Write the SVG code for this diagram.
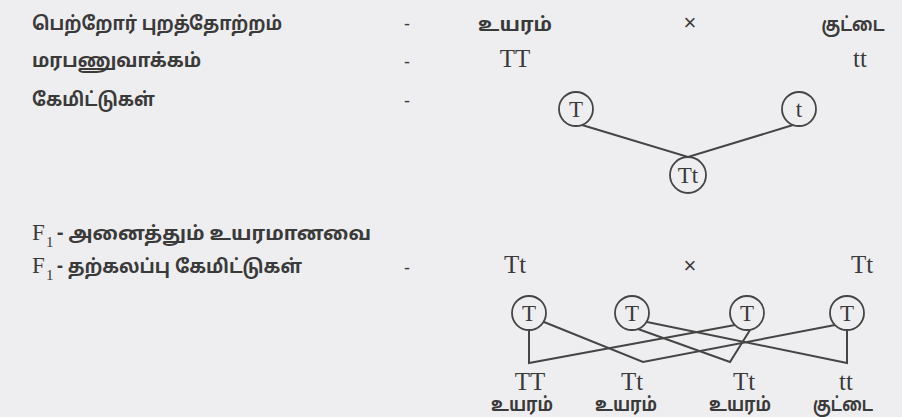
<svg xmlns="http://www.w3.org/2000/svg" width="902" height="417" viewBox="0 0 902 417">
<style>
.ta{font-family:"Noto Sans Tamil","Lohit Tamil","Noto Sans",sans-serif;font-size:19px;font-weight:700;fill:#3a3a3a}
.sr{font-family:"Liberation Serif",serif;fill:#3a3a3a}
.big{font-size:25px}
.cl{font-size:23px}
.dash{font-family:"Liberation Sans",sans-serif;font-size:18px;fill:#3a3a3a}
.x{font-family:"Liberation Sans",sans-serif;font-size:22px;fill:#3a3a3a}
.node circle{fill:none;stroke:#454545;stroke-width:1.8}
.conn{fill:none;stroke:#454545;stroke-width:2;stroke-linejoin:miter}
</style>
<rect width="902" height="417" fill="#eeeef0"/>
<g id="labels">
<text class="ta" x="32" y="30" textLength="250" lengthAdjust="spacingAndGlyphs">பெற்றோர் புறத்தோற்றம்</text>
<text class="ta" x="32" y="67" textLength="169" lengthAdjust="spacingAndGlyphs">மரபணுவாக்கம்</text>
<text class="ta" x="32" y="106" textLength="123" lengthAdjust="spacingAndGlyphs">கேமிட்டுகள்</text>
<text class="dash" x="404" y="30">-</text>
<text class="dash" x="404" y="68">-</text>
<text class="dash" x="404" y="107">-</text>
<text class="ta" x="515" y="31" text-anchor="middle" textLength="74" lengthAdjust="spacingAndGlyphs">உயரம்</text>
<text class="x" x="690" y="30" text-anchor="middle">×</text>
<text class="ta" x="853" y="31" text-anchor="middle" textLength="63" lengthAdjust="spacingAndGlyphs">குட்டை</text>
<text class="sr big" x="515" y="67" text-anchor="middle">TT</text>
<text class="sr big" x="860" y="67" text-anchor="middle">tt</text>
<text class="sr" x="32" y="240" font-size="23">F</text>
<text class="sr" x="46" y="247" font-size="15">1</text>
<text class="ta" x="57" y="240" textLength="314" lengthAdjust="spacingAndGlyphs">- அனைத்தும் உயரமானவை</text>
<text class="sr" x="32" y="273" font-size="23">F</text>
<text class="sr" x="46" y="280" font-size="15">1</text>
<text class="ta" x="57" y="273" textLength="245" lengthAdjust="spacingAndGlyphs">- தற்கலப்பு கேமிட்டுகள்</text>
<text class="dash" x="404" y="274">-</text>
<text class="sr big" x="515" y="273" text-anchor="middle">Tt</text>
<text class="x" x="690" y="273" text-anchor="middle">×</text>
<text class="sr big" x="862" y="273" text-anchor="middle">Tt</text>
</g>
<g id="connectors">
<path class="conn" d="M582,125 L688,157 L793,125"/>
<path class="conn" d="M529,330 L529,363 L735,325"/>
<path class="conn" d="M544,322 L643,362 L835,325"/>
<path class="conn" d="M638,329 L730,362 L750,330"/>
<path class="conn" d="M647,322 L847,363 L847,330"/>
</g>
<g id="node-T1" class="node"><circle cx="576" cy="109" r="17"/><text class="sr cl" x="576" y="117" text-anchor="middle">T</text></g>
<g id="node-t1" class="node"><circle cx="799" cy="109" r="17"/><text class="sr cl" x="799" y="117" text-anchor="middle">t</text></g>
<g id="node-Tt" class="node"><circle cx="688" cy="175" r="18"/><text class="sr cl" x="688" y="183" text-anchor="middle">Tt</text></g>
<g id="node-g1" class="node"><circle cx="529" cy="313" r="17"/><text class="sr cl" x="529" y="321" text-anchor="middle">T</text></g>
<g id="node-g2" class="node"><circle cx="632" cy="313" r="17"/><text class="sr cl" x="632" y="321" text-anchor="middle">T</text></g>
<g id="node-g3" class="node"><circle cx="747" cy="313" r="17"/><text class="sr cl" x="747" y="321" text-anchor="middle">T</text></g>
<g id="node-g4" class="node"><circle cx="847" cy="313" r="17"/><text class="sr cl" x="847" y="321" text-anchor="middle">T</text></g>
<g id="node-TT" class="node"><text class="sr big" x="530" y="390" text-anchor="middle">TT</text><text class="ta" x="522" y="411" text-anchor="middle" textLength="62" lengthAdjust="spacingAndGlyphs">உயரம்</text></g>
<g id="node-Tt2" class="node"><text class="sr big" x="632" y="390" text-anchor="middle">Tt</text><text class="ta" x="626" y="411" text-anchor="middle" textLength="62" lengthAdjust="spacingAndGlyphs">உயரம்</text></g>
<g id="node-Tt3" class="node"><text class="sr big" x="744" y="390" text-anchor="middle">Tt</text><text class="ta" x="740" y="411" text-anchor="middle" textLength="62" lengthAdjust="spacingAndGlyphs">உயரம்</text></g>
<g id="node-tt" class="node"><text class="sr big" x="846" y="390" text-anchor="middle">tt</text><text class="ta" x="843" y="411" text-anchor="middle" textLength="60" lengthAdjust="spacingAndGlyphs">குட்டை</text></g>
</svg>
